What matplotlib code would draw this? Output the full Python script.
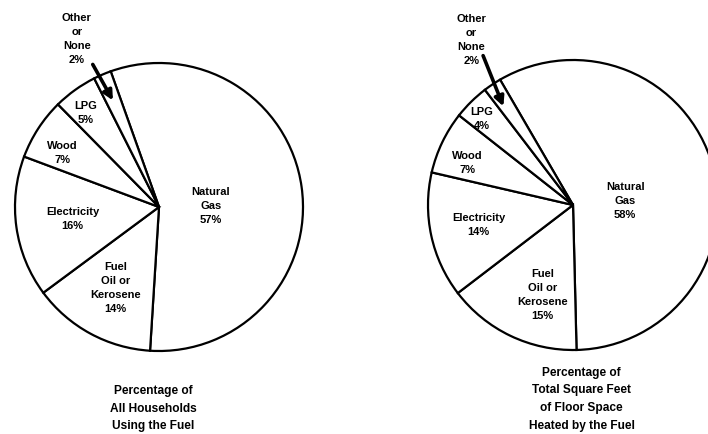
import matplotlib.pyplot as plt

plt.rcParams['font.family'] = ['Liberation Sans', 'DejaVu Sans']

# Datos: orden en sentido horario empezando por Natural Gas
fuels = ["Natural\nGas", "Fuel\nOil or\nKerosene", "Electricity", "Wood", "LPG", "Other\nor\nNone"]
households_pct = [57, 14, 16, 7, 5, 2]
floorspace_pct = [58, 15, 14, 7, 4, 2]
captions = ["Percentage of\nAll Households\nUsing the Fuel",
            "Percentage of\nTotal Square Feet\nof Floor Space\nHeated by the Fuel"]

W, H = 708, 434
fig = plt.figure(figsize=(W / 100, H / 100), dpi=100)
fig.patch.set_facecolor("white")

SPAN = 1.5


def pie_axes(cx, cy, r):
    # ejes cuadrados en pixeles, centro (cx, cy) con y hacia abajo
    s = r * SPAN
    ax = fig.add_axes([(cx - s) / W, (H - cy - s) / H, 2 * s / W, 2 * s / H])
    return ax


def draw(ax, values, start, label_pos, arrow, caption, cap_y, cap_x=0.0):
    ax.pie(values, startangle=start, counterclock=False, radius=1.0,
           colors=["white"] * len(values),
           wedgeprops=dict(edgecolor="black", linewidth=1.6))
    # pie() fija sus propios limites, se ponen despues
    ax.set_xlim(-SPAN, SPAN)
    ax.set_ylim(-SPAN, SPAN)
    ax.set_aspect("equal")
    ax.axis("off")
    for name, v, (x, y) in zip(fuels, values, label_pos):
        ax.text(x, y, f"{name}\n{v}%", ha="center", va="center",
                fontsize=8, fontweight="bold", linespacing=1.5)
    ax.annotate("", xy=arrow[1], xytext=arrow[0],
                arrowprops=dict(arrowstyle="-|>", lw=2.6, color="black",
                                mutation_scale=14, shrinkA=0, shrinkB=0))
    ax.text(cap_x, cap_y, caption, ha="center", va="center",
            fontsize=8.6, fontweight="bold", linespacing=1.65)


ax1 = pie_axes(159, 207, 144)
draw(ax1, households_pct, 109.6,
     [(0.36, 0.01), (-0.30, -0.56), (-0.60, -0.08), (-0.67, 0.375),
      (-0.51, 0.65), (-0.57, 1.17)],
     ((-0.46, 0.99), (-0.32, 0.74)),
     captions[0], -1.40, -0.04)

ax2 = pie_axes(573, 205, 145)
draw(ax2, floorspace_pct, 120.2,
     [(0.36, 0.03), (-0.21, -0.62), (-0.65, -0.14), (-0.73, 0.29),
      (-0.63, 0.59), (-0.70, 1.14)],
     ((-0.62, 1.03), (-0.48, 0.68)),
     captions[1], -1.34, 0.06)

fig.savefig("out.png", dpi=100, facecolor="white")
